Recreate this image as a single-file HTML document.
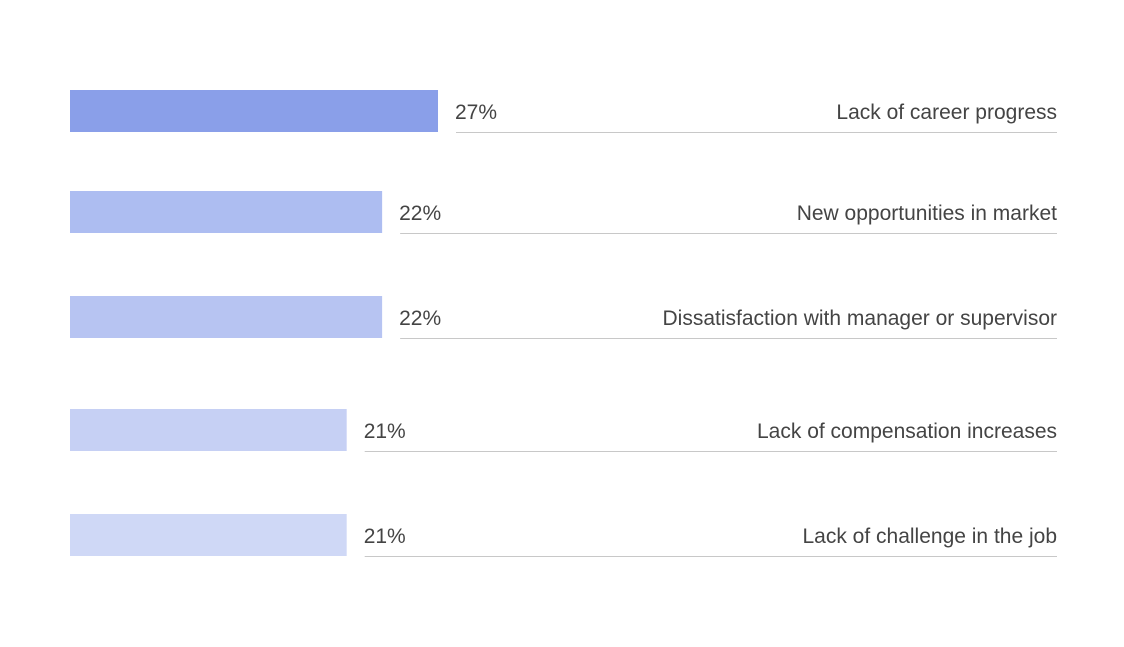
<!DOCTYPE html>
<html><head><meta charset="utf-8"><style>
html,body{margin:0;padding:0;background:#fff;}
svg{display:block;font-family:"Liberation Sans",sans-serif;}
</style></head><body>
<svg id="chart" width="1124" height="647"></svg>
<script>
const categories=["Lack of career progress","New opportunities in market","Dissatisfaction with manager or supervisor","Lack of compensation increases","Lack of challenge in the job"];
const values=[27,22.9,22.9,20.3,20.3];
const valueLabels=["27%","22%","22%","21%","21%"];
const colors=["#8a9fe9","#adbdf1","#b7c4f2","#c6d0f4","#cfd8f6"];
const NS="http://www.w3.org/2000/svg";
const svg=document.getElementById('chart');
const x0=70, scale=13.63, barH=42, right=1057;
const rowTops=[90,191,296,409,514];
function xs(v){return x0+v*scale;}
function mk(t,a){const e=document.createElementNS(NS,t);for(const k in a)e.setAttribute(k,a[k]);svg.appendChild(e);return e;}
categories.forEach((c,i)=>{
  const y=rowTops[i], w=xs(values[i])-x0;
  const bar=mk('rect',{x:x0,y:y,width:w,height:barH,fill:colors[i]});
  
  
  const lx=x0+w+17;
  const line=mk('line',{x1:lx+1,x2:right,y1:y+barH+0.5,y2:y+barH+0.5,stroke:'#c8c8c8','stroke-width':1});
  
  
  const vt=mk('text',{x:lx,y:y+29,'font-size':21,fill:'#444'});
  vt.textContent=valueLabels[i];
  
  
  const ct=mk('text',{x:right,y:y+29,'font-size':21,fill:'#444','text-anchor':'end'});
  ct.textContent=c;
  
  
});
</script>
</body></html>
